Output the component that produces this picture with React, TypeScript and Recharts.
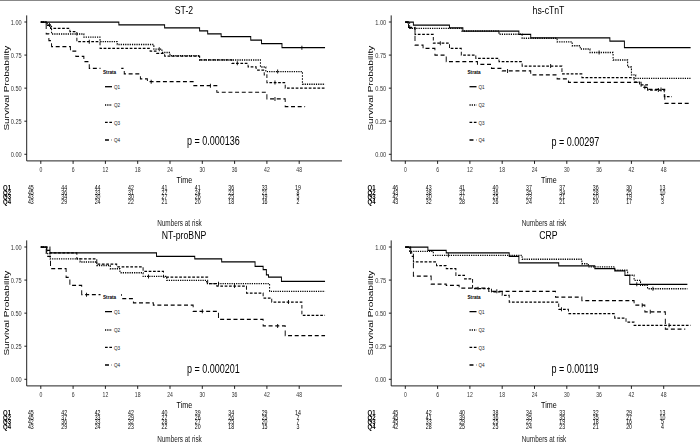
import React from 'react'
import { LineChart, Line, XAxis, YAxis, ScatterChart, Scatter } from 'recharts'

// the source figure is squeezed sideways, so it is laid out wide and scaled in x
const K = 0.75
const sx = (v: number) => v / K
const FONT = '"Liberation Sans", Arial, Helvetica, sans-serif'

const strata = ['Q1', 'Q2', 'Q3', 'Q4']
const timeTicks = [0, 6, 12, 18, 24, 30, 36, 42, 48]
const probTicks = [0, 0.25, 0.5, 0.75, 1]
const titles = ['ST-2', 'hs-cTnT', 'NT-proBNP', 'CRP']
const pValues = ['p = 0.000136', 'p = 0.00297', 'p = 0.000201', 'p = 0.00119']

// [time, survival, censored?]
type Pt = [number, number, number?]

const st2Q1: Pt[] = [[0, 1], [14.5, 0.978], [23, 0.956], [29.5, 0.933], [31, 0.911], [33.5, 0.889], [39, 0.864], [41, 0.836], [44.8, 0.806], [48.5, 0.806, 1], [52.8, 0.806]]
const st2Q2: Pt[] = [[0, 1], [1.2, 0.977], [1.6, 0.977, 1], [2, 0.909], [8, 0.886], [11, 0.852], [14.2, 0.83], [21, 0.795], [22, 0.795, 1], [22.5, 0.77], [24, 0.745], [29.5, 0.713], [40.8, 0.66], [41.8, 0.625], [44, 0.625, 1], [48.6, 0.53], [52.8, 0.53]]
const st2Q3: Pt[] = [[0, 1], [1, 0.975], [1.8, 0.952], [5.4, 0.927], [6.7, 0.851], [9, 0.851, 1], [11, 0.8], [20.3, 0.78], [21.5, 0.763], [23, 0.743], [29.5, 0.713], [35.5, 0.688], [36.5, 0.688, 1], [38.5, 0.66], [40, 0.637], [41.5, 0.6], [42, 0.542], [43.5, 0.542, 1], [45.4, 0.5], [52.8, 0.5]]
const st2Q4: Pt[] = [[0, 1], [1, 0.91], [1.5, 0.86], [2, 0.814], [5.5, 0.78], [6.5, 0.74], [8, 0.7], [9, 0.65], [15.5, 0.607], [18.5, 0.57], [19.8, 0.549], [20.5, 0.549, 1], [28.3, 0.519], [31.5, 0.519, 1], [32.7, 0.469], [42, 0.418], [43.5, 0.418, 1], [45.4, 0.36], [49.1, 0.36]]

const tntQ1: Pt[] = [[0, 1], [1.5, 0.977], [8.2, 0.955], [10.7, 0.932], [21.1, 0.907], [23.3, 0.88], [38, 0.856], [40.7, 0.806], [53, 0.806]]
const tntQ2: Pt[] = [[0, 1], [0.8, 0.952], [10.5, 0.932], [17.4, 0.907], [21.7, 0.877], [28.2, 0.85], [31, 0.82], [32.5, 0.796], [34.3, 0.77], [36, 0.77, 1], [38.6, 0.713], [41.3, 0.66], [42, 0.6], [42.8, 0.574], [53, 0.574]]
const tntQ3: Pt[] = [[0, 1], [0.6, 0.955], [1.8, 0.907], [5.2, 0.84], [6.5, 0.84, 1], [8.2, 0.8], [10.4, 0.75], [13.1, 0.725], [17.4, 0.7], [21.7, 0.667], [27, 0.667, 1], [29.1, 0.607], [32.8, 0.58], [42.5, 0.545], [43.5, 0.524], [45, 0.486], [47, 0.486, 1], [48.1, 0.436], [49.5, 0.436]]
const tntQ4: Pt[] = [[0, 1], [0.5, 0.96], [1.8, 0.826], [3.3, 0.8], [5.5, 0.75], [7.6, 0.7], [13.4, 0.68], [16, 0.65], [18, 0.63], [19, 0.63, 1], [23.3, 0.6], [28.2, 0.57], [30.3, 0.544], [43.8, 0.506], [44.5, 0.506, 1], [45, 0.49], [47.5, 0.49, 1], [48.2, 0.385], [53, 0.385]]

const bnpQ1: Pt[] = [[0, 1], [1.1, 0.975], [1.7, 0.955], [21.5, 0.93], [28.6, 0.91], [33.6, 0.887], [39.8, 0.854], [41.3, 0.83], [41.9, 0.79], [42.3, 0.773], [44.7, 0.74], [52.8, 0.74]]
const bnpQ2: Pt[] = [[0, 1], [1.1, 0.95], [1.7, 0.91], [7.3, 0.887], [10.4, 0.86], [12.9, 0.836], [14.7, 0.806], [19, 0.778], [20, 0.778, 1], [23.4, 0.748], [30.8, 0.723], [33, 0.723, 1], [42.5, 0.665], [52.8, 0.665]]
const bnpQ3: Pt[] = [[0, 1], [1.7, 0.955], [6.7, 0.91], [10.4, 0.87], [14.1, 0.85], [19, 0.816], [22.8, 0.773], [31, 0.723], [32.7, 0.705], [36, 0.705, 1], [38.2, 0.652], [41.3, 0.614], [42.9, 0.584], [46, 0.584, 1], [48.5, 0.484], [52.8, 0.484]]
const bnpQ4: Pt[] = [[0, 1], [1, 0.93], [1.8, 0.836], [4.7, 0.77], [5.4, 0.71], [7.6, 0.64], [8.5, 0.64, 1], [15, 0.61], [17.2, 0.577], [20.9, 0.56], [28.3, 0.514], [30, 0.514, 1], [33, 0.453], [41.3, 0.403], [44, 0.403, 1], [45.4, 0.33], [52.8, 0.33]]

const crpQ1: Pt[] = [[0, 1], [4.2, 0.975], [7.6, 0.955], [19.3, 0.93], [21.1, 0.88], [28.5, 0.857], [35.2, 0.836], [38.9, 0.82], [40.8, 0.786], [41.7, 0.718], [43, 0.718, 1], [52.4, 0.718]]
const crpQ2: Pt[] = [[0, 1], [0.8, 0.967], [5.2, 0.937], [8, 0.937, 1], [21.7, 0.907], [32.8, 0.874], [34, 0.85], [38.9, 0.824], [41.3, 0.786], [42.5, 0.748], [43.7, 0.71], [45, 0.685], [46, 0.685, 1], [52.4, 0.685]]
const crpQ3: Pt[] = [[0, 1], [1, 0.955], [1.5, 0.887], [5.8, 0.86], [7.6, 0.836], [9.4, 0.786], [11, 0.76], [12.5, 0.685], [13.5, 0.685, 1], [16, 0.66], [18, 0.635], [19.3, 0.584], [28.5, 0.529], [29, 0.529, 1], [30.3, 0.496], [38.9, 0.463], [41, 0.433], [42.5, 0.408], [49, 0.408, 1], [53, 0.408]]
const crpQ4: Pt[] = [[0, 1], [1, 0.93], [1.5, 0.78], [4.8, 0.72], [7.6, 0.71], [10, 0.69], [15.5, 0.665], [17, 0.665, 1], [27.9, 0.622], [32.8, 0.594], [42.5, 0.56], [44, 0.56, 1], [44.5, 0.51], [45.5, 0.51, 1], [48.3, 0.38], [52, 0.38]]

// numbers at risk, one row per stratum, one column per time tick
const st2Risk = [
  [45, 44, 44, 42, 41, 41, 36, 33, 19],
  [45, 36, 33, 31, 27, 24, 23, 21, 8],
  [43, 34, 30, 30, 27, 26, 25, 19, 5],
  [43, 29, 24, 22, 21, 20, 18, 16, 2],
]
const tntRisk = [
  [46, 43, 41, 40, 37, 37, 36, 30, 13],
  [43, 38, 37, 36, 35, 34, 28, 25, 10],
  [42, 30, 27, 25, 23, 21, 20, 19, 5],
  [43, 32, 28, 26, 24, 21, 20, 17, 3],
]
const bnpRisk = [
  [45, 42, 42, 42, 40, 39, 34, 29, 14],
  [45, 37, 33, 29, 27, 26, 26, 25, 7],
  [42, 36, 33, 32, 28, 27, 25, 20, 7],
  [43, 29, 24, 23, 22, 20, 18, 15, 3],
]
const crpRisk = [
  [45, 42, 40, 38, 34, 33, 32, 29, 13],
  [45, 41, 39, 36, 35, 35, 35, 27, 10],
  [45, 33, 29, 25, 22, 19, 18, 16, 5],
  [42, 28, 25, 25, 24, 23, 21, 20, 4],
]

const dashes = [undefined, '1.6 1.4', '3.6 2.2', '5.3 3.6']

const toRows = (pts: Pt[]) => pts.map(([t, s, c]) => ({ t, s, c: !!c }))

const riskRows = (risk: number[][]) =>
  risk.flatMap((row, r) => row.map((n, i) => ({ t: timeTicks[i], row: r + 1, n })))

function Censor(props: any) {
  const { cx, cy, payload, index } = props
  if (!payload || !payload.c) return <g key={`n${index}`} />
  return <line key={`c${index}`} x1={cx} x2={cx} y1={cy - 2} y2={cy + 2} stroke="#000" strokeWidth={1.2} />
}

function RowLabel(props: any) {
  const { y, payload } = props
  return (
    <text x={sx(3)} y={y} dominantBaseline="central" fontSize={8} fontWeight="bold" fill="#000">
      {strata[payload.value - 1]}
    </text>
  )
}

function RiskNumber(props: any) {
  const { cx, cy, payload } = props
  return (
    <text x={cx} y={cy} textAnchor="middle" dominantBaseline="central" fontSize={7} fill="#000">
      {payload.n}
    </text>
  )
}

interface PanelProps {
  left: number
  top: number
  title: string
  curves: Pt[][]
  risk: number[][]
  p: string
  pY: number
  noteY: number
}

function Panel({ left, top, title, curves, risk, p, pY, noteY }: Readonly<PanelProps>) {
  const legendRows = [86.7, 105, 122.3, 140]
  return (
    <div style={{ position: 'absolute', left: sx(left), top, width: sx(364), height: 225 }}>
      {/* Title */}
      <div style={{ position: 'absolute', left: sx(84), width: sx(200), top: 1.5, height: 16, lineHeight: '16px', textAlign: 'center', fontSize: 11.6, color: '#000' }}>
        {title}
      </div>

      {/* KM curves */}
      <div style={{ position: 'absolute', left: 0, top: 0 }}>
        <LineChart width={sx(346)} height={185} margin={{ top: 15.4, right: sx(4), left: 0, bottom: 0 }}>
          <XAxis
            type="number"
            dataKey="t"
            domain={[-2.62, 55.95]}
            ticks={timeTicks}
            interval={0}
            height={24.1}
            stroke="#000"
            tickSize={3}
            tickMargin={3.5}
            tick={{ fontSize: 6.8, fill: '#333' }}
            label={{ value: 'Time', position: 'insideBottom', offset: 1.7, fontSize: 9.5, fill: '#000' }}
          />
          <YAxis
            type="number"
            domain={[-0.05, 1.05]}
            ticks={probTicks}
            interval={0}
            width={sx(26.7)}
            stroke="#000"
            tickSize={3.1}
            tickMargin={3.6}
            tick={{ fontSize: 7.5, fill: '#333' }}
            tickFormatter={(v: number) => v.toFixed(2)}
            label={{ value: 'Survival Probability', angle: -90, position: 'insideLeft', offset: sx(6), style: { textAnchor: 'middle' }, fontSize: 10, fill: '#000' }}
          />
          {curves.map((c, i) => (
            <Line
              key={strata[i]}
              name={strata[i]}
              data={toRows(c)}
              dataKey="s"
              type="stepAfter"
              stroke="#000"
              strokeWidth={i === 1 ? 1.4 : 1.25}
              strokeDasharray={dashes[i]}
              dot={Censor}
              activeDot={false}
              isAnimationActive={false}
            />
          ))}
        </LineChart>
      </div>

      {/* Legend, drawn over the curves on a white box */}
      <svg width={sx(364)} height={225} style={{ position: 'absolute', left: 0, top: 0, pointerEvents: 'none' }}>
        <rect x={sx(100.5)} y={65} width={sx(21)} height={82} fill="#fff" />
        <text x={sx(103)} y={71.7} dominantBaseline="central" fontSize={6.2} fontWeight="bold" fill="#000">Strata</text>
        {strata.map((s, i) => (
          <g key={s}>
            <line x1={sx(105)} x2={sx(112)} y1={legendRows[i]} y2={legendRows[i]} stroke="#000" strokeWidth={1.3} strokeDasharray={dashes[i]} />
            <text x={sx(114)} y={legendRows[i]} dominantBaseline="central" fontSize={6.2} fill="#222">{s}</text>
          </g>
        ))}
      </svg>

      {/* p value */}
      <div style={{ position: 'absolute', left: sx(187), top: pY - 8, height: 16, lineHeight: '16px', fontSize: 12, color: '#000', whiteSpace: 'nowrap' }}>
        {p}
      </div>

      {/* Numbers at risk */}
      <div style={{ position: 'absolute', left: 0, top: 178.7 }}>
        <ScatterChart width={sx(310)} height={30} margin={{ top: 6, right: sx(12), left: 0, bottom: 5.7 }}>
          <XAxis type="number" dataKey="t" domain={[0, 48]} hide height={0} />
          <YAxis
            type="number"
            dataKey="row"
            domain={[0.5, 4.5]}
            reversed
            ticks={[1, 2, 3, 4]}
            interval={0}
            width={sx(30.8)}
            axisLine={false}
            tickLine={false}
            tick={RowLabel}
          />
          <Scatter data={riskRows(risk)} shape={RiskNumber} isAnimationActive={false} />
        </ScatterChart>
      </div>
      <div style={{ position: 'absolute', left: sx(129.5), width: sx(100), top: noteY - 6, height: 12, lineHeight: '12px', textAlign: 'center', fontSize: 8.5, color: '#222', whiteSpace: 'nowrap' }}>
        Numbers at risk
      </div>
    </div>
  )
}

export default function App() {
  return (
    <div style={{ position: 'absolute', left: 0, top: 0, width: 700, height: 444, overflow: 'hidden', background: '#fff', fontFamily: FONT }}>
      <div style={{ position: 'absolute', left: 0, top: 0, width: sx(700), height: 444, transform: `scaleX(${K})`, transformOrigin: '0 0' }}>
        <Panel left={0} top={0} title={titles[0]} curves={[st2Q1, st2Q2, st2Q3, st2Q4]} risk={st2Risk} p={pValues[0]} pY={140.5} noteY={223} />
        <Panel left={364.5} top={0} title={titles[1]} curves={[tntQ1, tntQ2, tntQ3, tntQ4]} risk={tntRisk} p={pValues[1]} pY={141.5} noteY={223} />
        <Panel left={0} top={225} title={titles[2]} curves={[bnpQ1, bnpQ2, bnpQ3, bnpQ4]} risk={bnpRisk} p={pValues[2]} pY={143.5} noteY={214} />
        <Panel left={364.5} top={225} title={titles[3]} curves={[crpQ1, crpQ2, crpQ3, crpQ4]} risk={crpRisk} p={pValues[3]} pY={143.5} noteY={214} />
      </div>
      <div style={{ position: 'absolute', left: 0, top: 0, width: 700, height: 1, background: '#888' }} />
    </div>
  )
}
